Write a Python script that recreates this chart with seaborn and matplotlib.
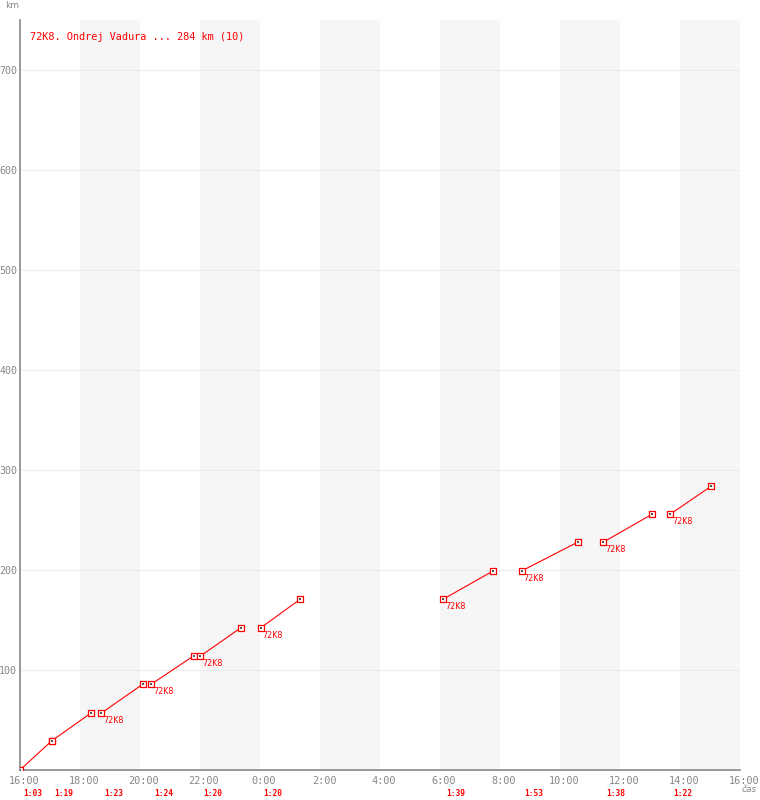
import numpy as np
import pandas as pd
import matplotlib
matplotlib.use('Agg')
import matplotlib.pyplot as plt
import matplotlib.transforms as mtransforms
import seaborn as sns

# lap data
lap_start = ["16:00", "17:03", "18:43", "20:23", "22:01", "0:01", "6:07", "8:43", "11:27", "13:41"]
lap_end = ["17:03", "18:22", "20:06", "21:47", "23:21", "1:21", "7:46", "10:36", "13:05", "15:03"]
km_start = [0, 29, 57, 86, 114, 142, 171, 199, 228, 256]
km_end = [29, 57, 86, 114, 142, 171, 199, 228, 256, 284]
lap_times = ["1:03", "1:19", "1:23", "1:24", "1:20", "1:20", "1:39", "1:53", "1:38", "1:22"]
rider = "72K8"
title = "72K8. Ondrej Vadura ... 284 km (10)"
x_ticks = ["16:00", "18:00", "20:00", "22:00", "0:00", "2:00", "4:00",
           "6:00", "8:00", "10:00", "12:00", "14:00", "16:00"]
y_ticks = [100, 200, 300, 400, 500, 600, 700]


def hours(s):
    h, m = s.split(':')
    return (int(h) + int(m) / 60 - 16) % 24


rows = []
for i in range(len(lap_start)):
    rows.append({'lap': i, 'h': hours(lap_start[i]), 'km': km_start[i]})
    rows.append({'lap': i, 'h': hours(lap_end[i]), 'km': km_end[i]})
df = pd.DataFrame(rows)

RED = '#ff0000'
GREY = '#888888'
MONO = 'DejaVu Sans Mono'

sns.set_style('white')
fig = plt.figure(figsize=(7.6, 8), dpi=100)
ax = fig.add_axes([20 / 760, 30 / 800, 720 / 760, 750 / 800])

# night/day bands every other 2 hours
for b in range(2, 24, 4):
    ax.axvspan(b, b + 2, color='#f6f6f6', lw=0, zorder=0)
for y in y_ticks:
    ax.axhline(y, color='#ececec', lw=0.8, zorder=1)

sns.lineplot(data=df, x='h', y='km', units='lap', estimator=None, color=RED,
             lw=0.8, ax=ax, legend=False, zorder=3)
sns.scatterplot(data=df, x='h', y='km', marker='s', s=16, facecolor='white',
                edgecolor=RED, linewidth=0.9, ax=ax, legend=False, zorder=4)
sns.scatterplot(data=df, x='h', y='km', marker='s', s=0.6, color='#555555',
                linewidth=0, ax=ax, legend=False, zorder=5)

# rider labels on laps that start after a break
for i in range(2, len(lap_start)):
    ax.annotate(rider, (hours(lap_start[i]), km_start[i]), xytext=(2, -3),
                textcoords='offset pixels', ha='left', va='top', color=RED,
                fontsize=5.8, zorder=6)

# lap durations under the axis
for i in range(len(lap_start)):
    ax.annotate(lap_times[i], (hours(lap_start[i]), 0),
                xycoords=('data', 'axes fraction'), xytext=(3, -23),
                textcoords='offset pixels', ha='left', va='center', color=RED,
                fontsize=5.7, fontweight='bold', family=MONO, annotation_clip=False)

ax.text(10 / 720, 1 - 17.5 / 750, title, transform=ax.transAxes, color=RED,
        fontsize=7.4, family=MONO, ha='left', va='center')

ax.set_xlim(0, 24)
ax.set_ylim(0, 750)
ax.set_xticks(range(0, 25, 2))
ax.set_xticklabels(x_ticks, family=MONO, fontsize=7.4, color=GREY)
ax.set_yticks(y_ticks)
ax.set_yticklabels([str(v) for v in y_ticks], family=MONO, fontsize=7.2, color=GREY)
ax.tick_params(axis='both', length=0)
ax.tick_params(axis='x', pad=4)
ax.tick_params(axis='y', pad=2)
shift = mtransforms.ScaledTranslation(4 / 100, 0, fig.dpi_scale_trans)
for lab in ax.get_xticklabels():
    lab.set_transform(lab.get_transform() + shift)
ax.set_xlabel('')
ax.set_ylabel('')

for side in ['top', 'right']:
    ax.spines[side].set_visible(False)
for side in ['left', 'bottom']:
    ax.spines[side].set_color(GREY)
    ax.spines[side].set_linewidth(1.2)

fig.text(5 / 760, 1 - 6 / 800, 'km', color=GREY, fontsize=6.5, ha='left', va='center')
fig.text(742 / 760, 1 - 790 / 800, 'čas', color=GREY, fontsize=6.5, style='italic',
         ha='left', va='center')

fig.savefig('out.png', dpi=100)
